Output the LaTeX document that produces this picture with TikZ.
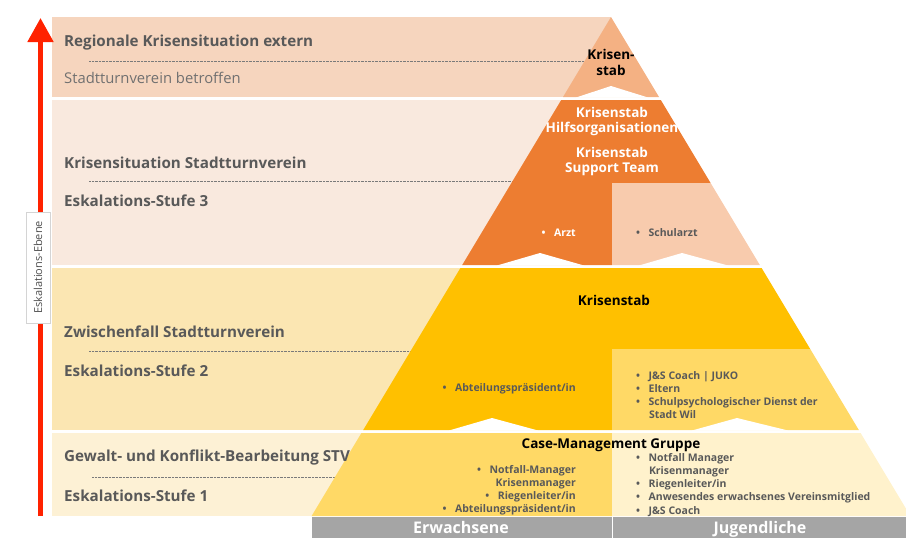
\documentclass[tikz,border=0pt]{standalone}
\usepackage{fontspec}
\setmainfont{Open Sans}
\usetikzlibrary{arrows.meta}

\definecolor{bandA}{HTML}{F6D5BE}
\definecolor{bandB}{HTML}{F9E9DE}
\definecolor{bandC}{HTML}{FBE6B2}
\definecolor{bandD}{HTML}{FDF1D5}
\definecolor{peak}{HTML}{F4B183}
\definecolor{orangeMain}{HTML}{ED7D31}
\definecolor{orangeSoft}{HTML}{F8CBAD}
\definecolor{gold}{HTML}{FFC000}
\definecolor{goldSoft}{HTML}{FFD966}
\definecolor{creme}{HTML}{FFF2CC}
\definecolor{barGray}{HTML}{A5A5A5}
\definecolor{txtGray}{HTML}{595959}
\definecolor{subGray}{HTML}{707070}
\definecolor{arrowRed}{HTML}{FF2200}
\definecolor{frameGray}{HTML}{D4D4D4}

\tikzset{
  lvl/.style={anchor=base west, inner sep=0pt, text=txtGray,
    font=\bfseries\fontsize{15.2}{18}\selectfont},
  sublvl/.style={anchor=base west, inner sep=0pt, text=subGray,
    font=\fontsize{14.8}{18}\selectfont},
  dotline/.style={draw=txtGray!80, line width=0.6pt, dash pattern=on 0.7pt off 0.7pt},
  ttl/.style={anchor=base, inner sep=0pt, font=\bfseries\fontsize{13.5}{16}\selectfont},
  itemE/.style={anchor=base east, inner sep=0pt, text=txtGray,
    font=\bfseries\fontsize{10.5}{12}\selectfont},
  itemW/.style={anchor=base west, inner sep=0pt, text=txtGray,
    font=\bfseries\fontsize{10.5}{12}\selectfont},
  barlbl/.style={anchor=base, inner sep=0pt, text=white,
    font=\bfseries\fontsize{16}{18}\selectfont},
  notch/.style={fill=white},
}
\newcommand{\bul}{\textbullet\hspace{8.5pt}}

\begin{document}
\begin{tikzpicture}[x=1pt,y=-1pt]
\useasboundingbox (0,0) rectangle (906,538);
\clip (0,0) rectangle (906,538);

% level bands behind the pyramid
\fill[bandA] (52,17) rectangle (611,97);
\fill[bandB] (52,100) rectangle (611,265);
\fill[bandC] (52,268) rectangle (611,430);
\fill[bandD] (52,433) rectangle (611,516);

% dotted separators inside the bands
\coordinate (d1a) at (89,61);  \coordinate (d1b) at (600,61);
\coordinate (d2a) at (89,181); \coordinate (d2b) at (600,181);
\coordinate (d3a) at (89,351); \coordinate (d3b) at (600,351);
\coordinate (d4a) at (92,477); \coordinate (d4b) at (600,477);
\draw[dotline] (d1a) -- (d1b);
\draw[dotline] (d2a) -- (d2b);
\draw[dotline] (d3a) -- (d3b);
\draw[dotline] (d4a) -- (d4b);

% pyramid sections
\fill[peak] (611,17) -- (659,97) -- (563,97) -- cycle;
\fill[orangeMain] (561.2,100) -- (660.8,100) -- (710.6,183) -- (612,183)
  -- (612,265) -- (462.2,265) -- cycle;
\fill[orangeSoft] (612,183) -- (710.6,183) -- (759.8,265) -- (612,265) -- cycle;
\fill[gold] (460.4,268) -- (761.6,268) -- (810.2,349) -- (612,349)
  -- (612,430) -- (363.2,430) -- cycle;
\fill[goldSoft] (612,349) -- (810.2,349) -- (858.8,430) -- (612,430) -- cycle;
\fill[goldSoft] (361.4,433) -- (612,433) -- (612,516) -- (311.6,516) -- cycle;
\fill[creme] (612,433) -- (860.6,433) -- (910.4,516) -- (612,516) -- cycle;

% notches along the lower edges
\fill[notch] (576,97.5) -- (611,86) -- (648,97.5) -- cycle;
\fill[notch] (497,265.5) -- (540,253) -- (584,265.5) -- cycle;
\fill[notch] (639,265.5) -- (682,253) -- (728,265.5) -- cycle;
\fill[notch] (449,430.5) -- (492,418) -- (538,430.5) -- cycle;
\fill[notch] (692,430.5) -- (737,418) -- (788,430.5) -- cycle;

% bottom bar
\fill[barGray] (311.6,517) rectangle (906,540);
\draw[white, line width=1pt] (612,517) -- (612,540);
\node[barlbl] (erw) at (461,533) {Erwachsene};
\node[barlbl] (jug) at (760,533) {Jugendliche};

% escalation arrow with its label
\coordinate (arrFoot) at (40.5,516);
\coordinate (arrTip) at (40.5,18);
\draw[arrowRed, line width=5pt,
  -{Triangle[width=25pt,length=24pt]}] (arrFoot) -- (arrTip);
\node[draw=frameGray, fill=white, rotate=90, minimum width=111pt,
  minimum height=24pt, inner sep=0pt, text=txtGray!90!black,
  font=\fontsize{11}{12}\selectfont] (ebene) at (38,267.5) {Eskalations-Ebene};

% band labels
\node[lvl] (l1) at (64,46) {Regionale Krisensituation extern};
\node[sublvl] (l1s) at (64,83.5) {Stadtturnverein betroffen};
\node[lvl] (l2) at (64,168) {Krisensituation Stadtturnverein};
\node[lvl] (l2s) at (64,206) {Eskalations-Stufe 3};
\node[lvl] (l3) at (64,337) {Zwischenfall Stadtturnverein};
\node[lvl] (l3s) at (64,376) {Eskalations-Stufe 2};
\node[lvl] (l4) at (64,461.5) {Gewalt- und Konflikt-Bearbeitung STV};
\node[lvl] (l4s) at (64,501) {Eskalations-Stufe 1};

% top section
\node[ttl, text=black] (p1a) at (611,59) {Krisen-};
\node[ttl, text=black] (p1b) at (611,75) {stab};

% second section
\node[ttl, text=white] (p2a) at (612,117) {Krisenstab};
\node[ttl, text=white] (p2b) at (612,132) {Hilfsorganisationen};
\node[ttl, text=white] (p2c) at (612,157) {Krisenstab};
\node[ttl, text=white] (p2d) at (612,172.5) {Support Team};
\node[itemE, text=white] (p2e) at (576,236) {\bul Arzt};
\node[itemW] (p2f) at (636,236) {\bul Schularzt};

% third section
\node[ttl, text=black] (p3a) at (614,305) {Krisenstab};
\node[itemE] (p3b) at (576,391) {\bul Abteilungspräsident/in};
\node[itemW] (p3c) at (636,379) {\bul J\&S Coach | JUKO};
\node[itemW] (p3d) at (636,392.3) {\bul Eltern};
\node[itemW] (p3e) at (636,405.6) {\bul Schulpsychologischer Dienst der};
\node[itemW] (p3f) at (648.8,418.9) {Stadt Wil};

% fourth section
\node[ttl, text=black] (p4a) at (611,448) {Case-Management Gruppe};
\node[itemE] (p4b) at (576,473) {\bul Notfall-Manager};
\node[itemE] (p4c) at (576,486.3) {Krisenmanager};
\node[itemE] (p4d) at (576,499.6) {\bul Riegenleiter/in};
\node[itemE] (p4e) at (576,512.9) {\bul Abteilungspräsident/in};
\node[itemW] (p4f) at (636,461) {\bul Notfall Manager};
\node[itemW] (p4g) at (648.8,474.3) {Krisenmanager};
\node[itemW] (p4h) at (636,487.6) {\bul Riegenleiter/in};
\node[itemW] (p4i) at (636,500.9) {\bul Anwesendes erwachsenes Vereinsmitglied};
\node[itemW] (p4j) at (636,514.2) {\bul J\&S Coach};
\end{tikzpicture}
\end{document}
